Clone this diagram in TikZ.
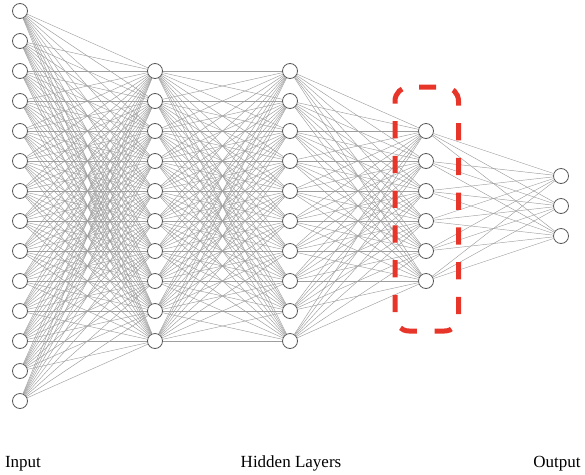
\documentclass[tikz,border=0pt]{standalone}
\usepackage{fontspec}
\setmainfont{Liberation Serif}
\usetikzlibrary{backgrounds}
\begin{document}
\begin{tikzpicture}[x=1pt,y=-1pt,
  neuron/.style={circle,draw=black!65,line width=0.8pt,fill=white,minimum size=15pt,inner sep=0pt},
  conn/.style={draw=black!38,line width=0.45pt},
  hilite/.style={draw={rgb,255:red,232;green,53;blue,42},line width=5pt,dash pattern=on 17.2pt off 17.56pt,dash phase=24.76pt,rounded corners=14pt},
  lbl/.style={font=\fontsize{17pt}{19pt}\selectfont,anchor=base}]
\useasboundingbox (0,0) rectangle (585,474);
% nodes
\foreach \k in {1,...,14} \node[neuron] (i\k) at (20,{11+30*(\k-1)}) {};
\foreach \k in {1,...,10} \node[neuron] (a\k) at (155,{71+30*(\k-1)}) {};
\foreach \k in {1,...,10} \node[neuron] (b\k) at (290,{71+30*(\k-1)}) {};
\foreach \k in {1,...,6} \node[neuron] (c\k) at (426,{131+30*(\k-1)}) {};
\foreach \k in {1,...,3} \node[neuron] (o\k) at (561,{176+30*(\k-1)}) {};
% connections
\begin{scope}[on background layer]
\foreach \p in {1,...,14} \foreach \q in {1,...,10} \path[conn] (i\p) -- (a\q);
\foreach \p in {1,...,10} \foreach \q in {1,...,10} \path[conn] (a\p) -- (b\q);
\foreach \p in {1,...,10} \foreach \q in {1,...,6} \path[conn] (b\p) -- (c\q);
\foreach \p in {1,...,6} \foreach \q in {1,...,3} \path[conn] (c\p) -- (o\q);
\end{scope}
% highlight
\draw[hilite] (395,87) -- (458.5,87) -- (458.5,331) -- (395,331) -- cycle;
% labels
\node[lbl] (tin) at (23,467.5) {Input};
\node[lbl] (thid) at (291,467.5) {Hidden Layers};
\node[lbl] (tout) at (557,467.5) {Output};
\end{tikzpicture}
\end{document}
